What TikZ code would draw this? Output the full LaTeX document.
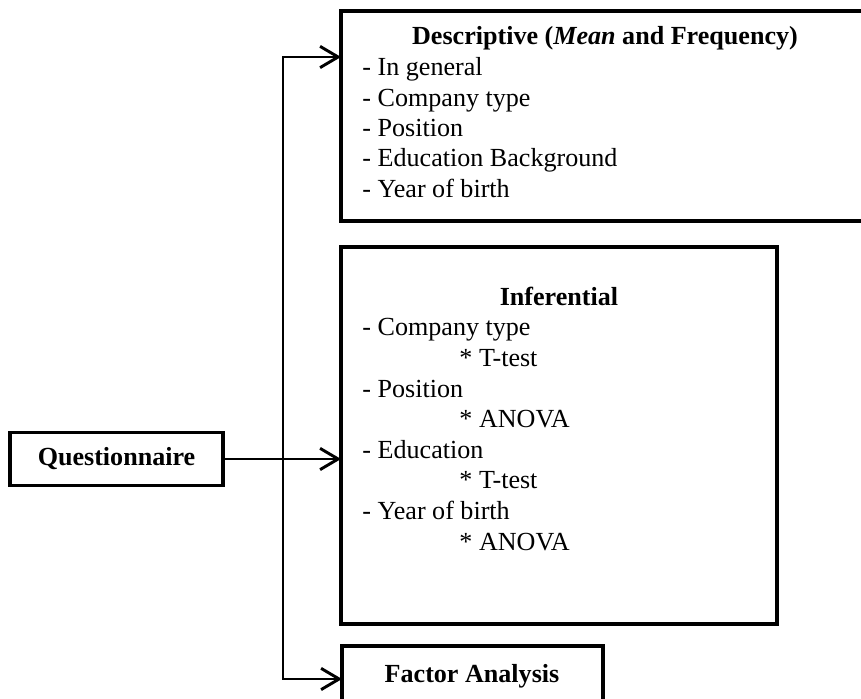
\documentclass[tikz,border=0pt]{standalone}
\usepackage{fontspec}
\setmainfont{Liberation Serif}
\usetikzlibrary{arrows.meta}
\begin{document}
\begin{tikzpicture}[x=0.46pt,y=-0.46pt,
  frame/.style={line width=1.4pt},
  box/.style={draw, frame, inner sep=0pt, outer sep=0pt},
  area/.style={inner sep=0pt, outer sep=0pt},
  conn/.style={line width=1.35pt, -{Straight Barb[length=8.3pt,width=9.8pt,line width=1.35pt]}},
  txt/.style={inner sep=0pt, anchor=base west, font=\fontsize{12pt}{13.8pt}\selectfont},
  ttl/.style={inner sep=0pt, anchor=base, font=\fontsize{12pt}{13.8pt}\selectfont\bfseries}]
\useasboundingbox (0,0) rectangle (861,699);
\clip (0,0) rectangle (861,699);

% boxes (the first runs off the right edge, the last off the bottom edge)
\node[area, minimum width=560*0.46pt, minimum height=210*0.46pt] (desc) at (621,116) {};
\draw[frame] (desc.north east) -- (desc.north west) -- (desc.south west) -- (desc.south east);
\node[box, minimum width=436*0.46pt, minimum height=377*0.46pt] (inf) at (559,435.5) {};
\node[area, minimum width=261*0.46pt, minimum height=70*0.46pt] (fa) at (472.5,681) {};
\draw[frame] (fa.south west) -- (fa.north west) -- (fa.north east) -- (fa.south east);
\node[box, minimum width=213*0.46pt, minimum height=53*0.46pt,
      font=\fontsize{12pt}{13.8pt}\selectfont\bfseries] (q) at (116.5,459) {Questionnaire};

% descriptive statistics
\node[ttl] (dt) at (605,45) {Descriptive (\textit{Mean} and Frequency)};
\node[txt] (d1) at (362,76)  {- In general};
\node[txt] (d2) at (362,106.5) {- Company type};
\node[txt] (d3) at (362,137) {- Position};
\node[txt] (d4) at (362,167) {- Education Background};
\node[txt] (d5) at (362,197.5) {- Year of birth};

% inferential statistics
\node[ttl] (it) at (559,306) {Inferential};
\node[txt] (i1) at (362,336)   {- Company type};
\node[txt] (i2) at (459,366.6) {* T-test};
\node[txt] (i3) at (362,397.2) {- Position};
\node[txt] (i4) at (459,427.8) {* ANOVA};
\node[txt] (i5) at (362,458.4) {- Education};
\node[txt] (i6) at (459,489)   {* T-test};
\node[txt] (i7) at (362,519.6) {- Year of birth};
\node[txt] (i8) at (459,550.2) {* ANOVA};

% factor analysis
\node[ttl] (ft) at (472,683) {Factor Analysis};

% connectors
\coordinate (top) at (283,57);
\coordinate (bot) at (283,679);
\coordinate (j) at (q.east -| top);
\coordinate (ad) at (desc.west |- top);
\coordinate (af) at (fa.west |- bot);
\draw[conn] (q.east) -- (inf.west |- q.east);
\draw[conn] (j) |- (ad);
\draw[conn] (j) |- (af);
\end{tikzpicture}
\end{document}
